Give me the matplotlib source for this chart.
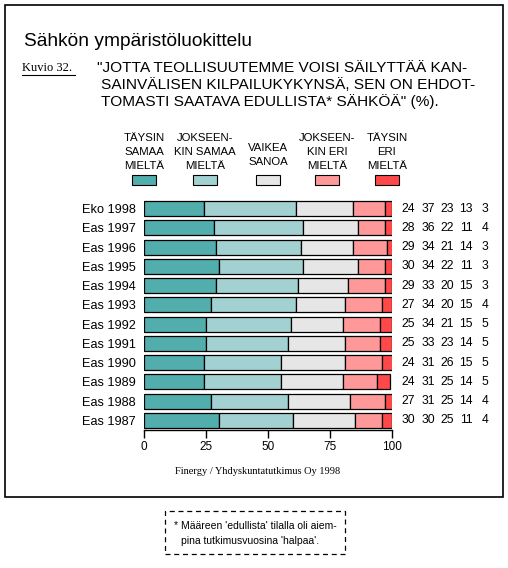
import matplotlib
matplotlib.use("Agg")
import matplotlib.pyplot as plt
from matplotlib.patches import Rectangle
from matplotlib.transforms import blended_transform_factory
import numpy as np

categories = ["Eko 1998", "Eas 1997", "Eas 1996", "Eas 1995", "Eas 1994", "Eas 1993",
              "Eas 1992", "Eas 1991", "Eas 1990", "Eas 1989", "Eas 1988", "Eas 1987"]
taysin_samaa = [24, 28, 29, 30, 29, 27, 25, 25, 24, 24, 27, 30]
jokseenkin_samaa = [37, 36, 34, 34, 33, 34, 34, 33, 31, 31, 31, 30]
vaikea_sanoa = [23, 22, 21, 22, 20, 20, 21, 23, 26, 25, 25, 25]
jokseenkin_eri = [13, 11, 14, 11, 15, 15, 15, 14, 15, 14, 14, 11]
taysin_eri = [3, 4, 3, 3, 3, 4, 5, 5, 5, 5, 4, 4]
series_labels = ["TÄYSIN\nSAMAA\nMIELTÄ", "JOKSEEN-\nKIN SAMAA\nMIELTÄ", "VAIKEA\nSANOA",
                 "JOKSEEN-\nKIN ERI\nMIELTÄ", "TÄYSIN\nERI\nMIELTÄ"]
xticks = [0, 25, 50, 75, 100]

colors = ["#52ADAD", "#A3D1D1", "#E6E6E6", "#FF9999", "#FF4848"]
series = [taysin_samaa, jokseenkin_samaa, vaikea_sanoa, jokseenkin_eri, taysin_eri]

W, H = 508, 568
plt.rcParams['font.family'] = ['Liberation Sans', 'DejaVu Sans']
fig = plt.figure(figsize=(W / 100, H / 100), dpi=100)

def fx(x):
    return x / W

def fy(y):
    return 1 - y / H

# outer frame
fig.patches.append(Rectangle((fx(5), fy(497)), fx(498), (492) / H, transform=fig.transFigure,
                             fill=False, edgecolor="black", linewidth=1.2))

# title
fig.text(fx(24), fy(41), "Sähkön ympäristöluokittelu", fontsize=13.8, ha="left", va="center")
fig.text(fx(22), fy(68), "Kuvio 32.", fontsize=9, family="Liberation Serif", ha="left", va="center")
fig.lines.append(plt.Line2D([fx(22), fx(75)], [fy(75), fy(75)], transform=fig.transFigure,
                            color="black", linewidth=0.8))
quote = ['"JOTTA TEOLLISUUTEMME VOISI SÄILYTTÄÄ KAN-',
         'SAINVÄLISEN KILPAILUKYKYNSÄ, SEN ON EHDOT-',
         'TOMASTI SAATAVA EDULLISTA* SÄHKÖÄ" (%).']
for i, line in enumerate(quote):
    fig.text(fx(97 if i == 0 else 101), fy(68 + 17 * i), line, fontsize=11.1, ha="left", va="center")

# legend
leg_x = [144, 205, 268, 327, 387]
for i, (lx, lab, c) in enumerate(zip(leg_x, series_labels, colors)):
    nlines = lab.count("\n") + 1
    yc = 152 if nlines == 3 else 155
    fig.text(fx(lx), fy(yc), lab, fontsize=8.2, ha="center", va="center",
             multialignment="center", linespacing=1.45)
    fig.patches.append(Rectangle((fx(lx - 12), fy(185)), 24 / W, 10 / H, transform=fig.transFigure,
                                 facecolor=c, edgecolor="black", linewidth=0.8))

# axes
pitch = 19.27
top_px = 208.5 - 0.5 * pitch
bot_px = 430
ax = fig.add_axes([fx(144.3), fy(bot_px), (392.3 - 144.3) / W, (bot_px - top_px) / H])
y = np.arange(len(categories))
left = np.zeros(len(categories))
for vals, c in zip(series, colors):
    ax.barh(y, vals, left=left, height=0.78, color=c, edgecolor="black", linewidth=0.9)
    left += np.array(vals)
ax.set_xlim(0, 100)
ax.set_ylim(len(categories) - 1 + 9.5 / pitch, -0.5)
ax.set_yticks(y)
ax.set_yticklabels(categories, fontsize=9.2)
ax.tick_params(axis="y", length=0, pad=6)
ax.set_xticks(xticks)
ax.set_xticklabels([str(t) for t in xticks], fontsize=8.5)
ax.tick_params(axis="x", length=6, direction="out", width=1, pad=2)
for s in ["top", "right", "left"]:
    ax.spines[s].set_visible(False)
ax.spines["bottom"].set_linewidth(1)

# numbers at right
tr = blended_transform_factory(fig.transFigure, ax.transData)
col_x = [408, 428, 447, 466, 485]
for j, vals in enumerate(series):
    for i, v in enumerate(vals):
        ax.text(fx(col_x[j]), i, str(v), transform=tr, fontsize=8.7, ha="center", va="center")

# source
fig.text(fx(258), fy(472), "Finergy / Yhdyskuntatutkimus Oy 1998", fontsize=7.5,
         family="Liberation Serif", ha="center", va="center")

# footnote box
fig.patches.append(Rectangle((fx(165), fy(554)), 180 / W, 43 / H, transform=fig.transFigure,
                             fill=False, edgecolor="black", linewidth=0.9, linestyle=(0, (4, 3))))
fig.text(fx(174), fy(526), "* Määreen 'edullista' tilalla oli aiem-", fontsize=7.5, ha="left", va="center")
fig.text(fx(181), fy(541), "pina tutkimusvuosina 'halpaa'.", fontsize=7.5, ha="left", va="center")

fig.savefig("out.png", dpi=100)
